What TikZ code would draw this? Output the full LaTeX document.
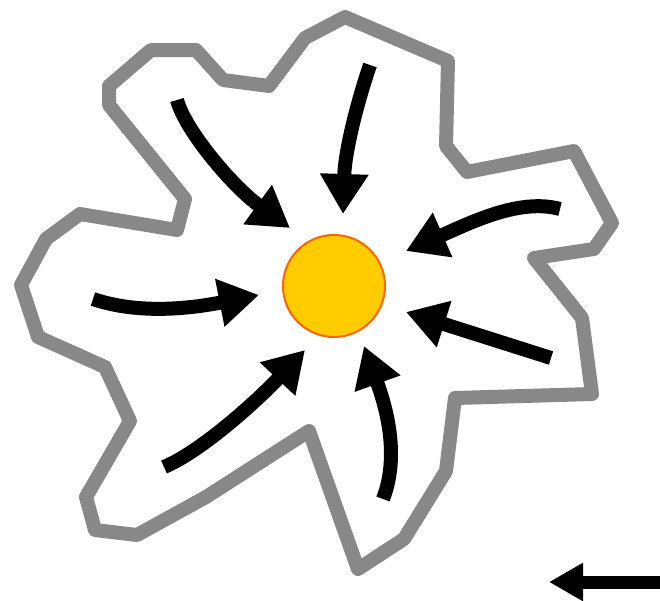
\documentclass[tikz,border=0pt]{standalone}
\usetikzlibrary{arrows.meta}
\definecolor{outlinegray}{RGB}{136,136,136}
\definecolor{sunfill}{RGB}{255,204,0}
\definecolor{sunedge}{RGB}{255,102,0}
\tikzset{
  flow/.style={line width=14pt, black, -{Triangle[length=40pt,width=46pt]}},
  smallflow/.style={line width=13pt, black, -{Triangle[length=34pt,width=36pt]}},
  blob/.style={draw=outlinegray, line width=14pt, line join=round, fill=white},
  sun/.style={circle, draw=sunedge, line width=2pt, fill=sunfill, minimum size=102pt, inner sep=0pt}
}
\begin{document}
\begin{tikzpicture}[x=1pt,y=-1pt]
\useasboundingbox (0,0) rectangle (660,600);
\draw[blob] (151,50) -- (196,50) -- (223,80) -- (269,86) -- (305,38) -- (345,17) -- (448,61)
  -- (446,146) -- (467,172) -- (574,151) -- (612,223) -- (594,249) -- (534,258)
  -- (582,318) -- (592,394) -- (455,398) -- (446,471) -- (404,539) -- (358,569)
  -- (309,431) -- (206,497) -- (137,535) -- (95,530) -- (86,497) -- (130,421)
  -- (105,367) -- (38,337) -- (21,285) -- (46,239) -- (80,214) -- (177,230)
  -- (185,199) -- (109,105) -- (109,86) -- cycle;
\node[sun] (c) at (334,286) {};
\coordinate (s1) at (177,100); \coordinate (t1) at (290,228);
\coordinate (s2) at (370,65);  \coordinate (t2) at (343,214);
\coordinate (s3) at (560,209); \coordinate (t3) at (406,251);
\coordinate (s4) at (93,299);  \coordinate (t4) at (259,295);
\coordinate (s5) at (551,358); \coordinate (t5) at (406,312);
\coordinate (s6) at (164,467); \coordinate (t6) at (305,350);
\coordinate (s7) at (383,499); \coordinate (t7) at (364,346);
\coordinate (s8) at (662,582); \coordinate (t8) at (549,582);
\draw[flow] (s1) .. controls (185,130) and (232,186) .. (t1);
\draw[flow] (s2) .. controls (358,100) and (345,150) .. (t2);
\draw[flow] (s3) .. controls (520,198) and (472,222) .. (t3);
\draw[flow] (s4) .. controls (140,315) and (193,308) .. (t4);
\draw[flow] (s5) -- (t5);
\draw[flow] (s6) .. controls (200,452) and (255,403) .. (t6);
\draw[flow] (s7) .. controls (400,455) and (386,407) .. (t7);
\draw[smallflow] (s8) -- (t8);
\end{tikzpicture}
\end{document}
